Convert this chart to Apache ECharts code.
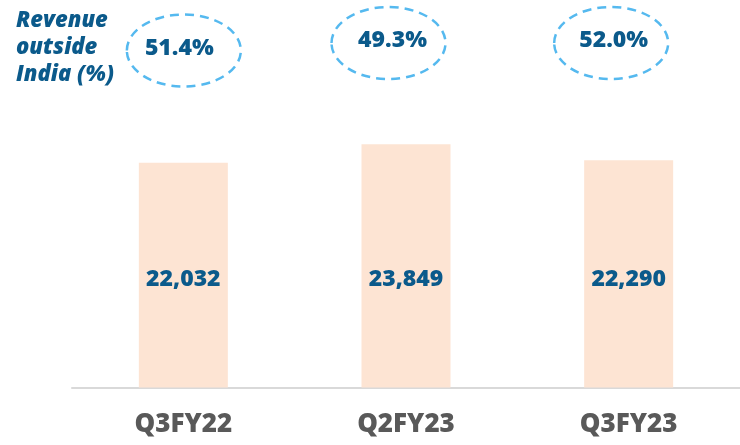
<!DOCTYPE html>
<html>
<head>
<meta charset="utf-8">
<script src="https://cdn.jsdelivr.net/npm/echarts@6/dist/echarts.min.js"></script>
<style>html,body{margin:0;padding:0;background:#fff}#c{width:740px;height:445px}</style>
</head>
<body>
<div id="c"></div>
<script>
const categories = ['Q3FY22', 'Q2FY23', 'Q3FY23'];
const revenue = [22032, 23849, 22290];
const outsideIndiaPct = [51.4, 49.3, 52.0];
const sideLabel = 'Revenue\noutside\nIndia (%)';

// layout of the dashed ellipse annotations (pixel offsets from category centre)
const ellipseLayout = [
  { dx: 0.5, cy: 50.5, tdx: -4, ty: 48.5 },
  { dx: -17.5, cy: 43, tdx: -13.5, ty: 40.5 },
  { dx: -17.5, cy: 43, tdx: -15, ty: 40.5 }
];

const blue = '#0b5a8b';
const chart = echarts.init(document.getElementById('c'), null, { renderer: 'canvas' });
chart.setOption({
  animation: false,
  backgroundColor: '#ffffff',
  title: {
    text: sideLabel,
    left: 11,
    top: 2,
    textStyle: { fontFamily: 'Open Sans', fontWeight: 800, fontStyle: 'italic', fontSize: 22, lineHeight: 27, color: blue }
  },
  grid: { left: 72, right: -4, top: 81.6, bottom: 57.5, containLabel: false },
  xAxis: {
    type: 'category',
    data: categories,
    axisLine: { show: true, lineStyle: { color: '#d9d9d9', width: 2 } },
    axisTick: { show: false },
    axisLabel: { margin: 24, fontFamily: 'Open Sans', fontWeight: 800, fontSize: 26, color: '#595959' }
  },
  yAxis: { type: 'value', min: 0, max: 30000, show: false, splitLine: { show: false } },
  series: [
    {
      type: 'bar',
      data: revenue,
      barWidth: 89,
      itemStyle: { color: '#fde4d3' },
      label: {
        show: true,
        position: 'insideBottom',
        distance: 97,
        formatter: p => p.value.toLocaleString('en-US'),
        fontFamily: 'Open Sans', fontWeight: 800, fontSize: 23, color: blue
      }
    },
    {
      type: 'custom',
      data: outsideIndiaPct.map((v, i) => [i, v]),
      clip: false,
      silent: true,
      renderItem: function (params, api) {
        const i = api.value(0);
        const x = api.coord([i, 0])[0];
        const L = ellipseLayout[i];
        return {
          type: 'group',
          children: [
            {
              type: 'ellipse',
              shape: { cx: x + L.dx, cy: L.cy, rx: 57, ry: 36 },
              style: { fill: 'none', stroke: '#55b9ef', lineWidth: 2.5, lineDash: [9, 6] }
            },
            {
              type: 'text',
              x: x + L.tdx,
              y: L.ty,
              style: {
                text: api.value(1).toFixed(1) + '%',
                align: 'center', verticalAlign: 'middle',
                font: '800 23px "Open Sans"',
                fill: blue
              }
            }
          ]
        };
      }
    }
  ]
});
</script>
</body>
</html>
